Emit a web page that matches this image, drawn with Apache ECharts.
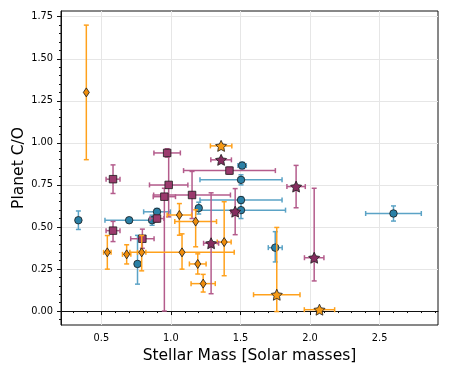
<!DOCTYPE html>
<html>
<head>
<meta charset="utf-8">
<script src="https://cdn.jsdelivr.net/npm/echarts@6/dist/echarts.min.js"></script>
<style>
  html, body { margin: 0; padding: 0; background: #fff; }
  #chart { width: 449px; height: 374px; }
</style>
</head>
<body>
<div id="chart"></div>
<script>
// tick positions
const xTicks = [0.5, 1.0, 1.5, 2.0, 2.5]
const xMinorTicks = [0.3, 0.4, 0.6, 0.7, 0.8, 0.9, 1.1, 1.2, 1.3, 1.4, 1.6, 1.7, 1.8, 1.9, 2.1, 2.2, 2.3, 2.4, 2.6, 2.7, 2.8, 2.9]
const yTicks = [0, 0.25, 0.5, 0.75, 1.0, 1.25, 1.5, 1.75]
const yMinorTicks = [-0.05, 0.05, 0.1, 0.15, 0.2, 0.3, 0.35, 0.4, 0.45, 0.55, 0.6, 0.65, 0.7, 0.8, 0.85, 0.9, 0.95, 1.05, 1.1, 1.15, 1.2, 1.3, 1.35, 1.4, 1.45, 1.55, 1.6, 1.65, 1.7]

// rows: [stellar mass, C/O, mass err, C/O err down, C/O err up]
const circles = [
  [0.335, 0.54, 0, 0.055, 0.055],
  [0.70, 0.54, 0.174, 0.015, 0.015],
  [0.865, 0.54, 0.02, 0.03, 0.03],
  [0.90, 0.59, 0.096, 0.02, 0.02],
  [0.76, 0.28, 0, 0.12, 0.17],
  [1.20, 0.612, 0, 0.035, 0.035],
  [1.512, 0.865, 0.03, 0.02, 0.02],
  [1.504, 0.78, 0.295, 0.03, 0.03],
  [1.504, 0.66, 0.295, 0.02, 0.02],
  [1.504, 0.60, 0.32, 0.05, 0.05],
  [1.75, 0.377, 0.05, 0.085, 0.095],
  [2.60, 0.58, 0.2, 0.045, 0.045]
]
const squares = [
  [0.584, 0.784, 0.05, 0.085, 0.085],
  [0.584, 0.478, 0.05, 0.065, 0.055],
  [0.795, 0.43, 0.084, 0.057, 0.057],
  [0.90, 0.55, 0.05, 0.02, 0.02],
  [0.953, 0.68, 0.08, 0.68, 0.05],
  [0.984, 0.75, 0.138, 0.19, 0.19],
  [0.973, 0.94, 0.095, 0.025, 0.025],
  [1.152, 0.69, 0.276, 0.14, 0.14],
  [1.421, 0.835, 0.33, 0.02, 0.02]
]
const diamonds = [
  [0.392, 1.30, 0, 0.40, 0.40],
  [0.543, 0.349, 0.027, 0.10, 0.10],
  [0.682, 0.337, 0.03, 0.057, 0.057],
  [0.79, 0.349, 0.03, 0.11, 0.10],
  [1.08, 0.349, 0.375, 0.10, 0.11],
  [1.061, 0.571, 0.088, 0.12, 0.068],
  [1.178, 0.532, 0.15, 0.15, 0.07],
  [1.193, 0.28, 0.06, 0.06, 0.06],
  [1.232, 0.163, 0.087, 0.05, 0.055],
  [1.383, 0.41, 0.05, 0.20, 0.24]
]
const orangeStars = [
  [1.361, 0.982, 0.077, 0, 0],
  [1.761, 0.097, 0.167, 0.10, 0.40],
  [2.068, 0.008, 0.109, 0, 0]
]
const purpleStars = [
  [1.361, 0.899, 0.074, 0, 0],
  [1.462, 0.591, 0.03, 0.137, 0.137],
  [1.289, 0.403, 0.054, 0.30, 0.30],
  [1.90, 0.74, 0.066, 0.126, 0.126],
  [2.03, 0.317, 0.07, 0.138, 0.413]
]

const starPath = 'path://M0,-10 L2.94,-4.05 9.51,-3.09 4.76,1.55 5.88,8.09 0,5 -5.88,8.09 -4.76,1.55 -9.51,-3.09 -2.94,-4.05 Z'

function errorBars (rows, color, z) {
  return {
    type: 'custom',
    z: z,
    silent: true,
    data: rows,
    encode: { x: 0, y: 1 },
    renderItem: function (params, api) {
      let x = api.value(0)
      let y = api.value(1)
      let xe = api.value(2)
      let lo = api.value(3)
      let hi = api.value(4)
      let cap = 2.5
      let kids = []
      let line = function (x1, y1, x2, y2) {
        kids.push({
          type: 'line',
          shape: { x1: x1, y1: y1, x2: x2, y2: y2 },
          style: { stroke: color, lineWidth: 1.5 }
        })
      }
      if (xe > 0) {
        let a = api.coord([x - xe, y])
        let b = api.coord([x + xe, y])
        line(a[0], a[1], b[0], b[1])
        line(a[0], a[1] - cap, a[0], a[1] + cap)
        line(b[0], b[1] - cap, b[0], b[1] + cap)
      }
      if (lo > 0 || hi > 0) {
        let a = api.coord([x, y - lo])
        let b = api.coord([x, y + hi])
        line(a[0], a[1], b[0], b[1])
        line(a[0] - cap, a[1], a[0] + cap, a[1])
        line(b[0] - cap, b[1], b[0] + cap, b[1])
      }
      return { type: 'group', children: kids }
    }
  }
}

function markers (rows, symbol, size, color, z) {
  return {
    type: 'scatter',
    z: z,
    data: rows,
    encode: { x: 0, y: 1 },
    symbol: symbol,
    symbolSize: size,
    itemStyle: { color: color, borderColor: '#1a1a1a', borderWidth: 0.8, opacity: 1 }
  }
}

let myChart = echarts.init(document.getElementById('chart'))
myChart.setOption({
  animation: false,
  grid: {
    left: 61,
    right: 11,
    top: 11,
    bottom: 49,
    containLabel: false,
    outerBoundsMode: 'none',
    show: true,
    borderColor: '#111',
    borderWidth: 1
  },
  xAxis: [
    {
      type: 'value',
      min: 0.21,
      max: 2.92,
      name: 'Stellar Mass [Solar masses]',
      nameLocation: 'middle',
      nameGap: 23,
      nameMoveOverlap: false,
      nameTextStyle: { fontFamily: 'DejaVu Sans', fontSize: 15.5, color: '#000' },
      axisLine: { show: true, lineStyle: { color: '#111' } },
      axisTick: { show: true, inside: false, length: 4, customValues: xTicks, lineStyle: { color: '#111' } },
      axisLabel: {
        customValues: xTicks,
        margin: 8,
        fontFamily: 'DejaVu Sans',
        fontSize: 9.8,
        color: '#000',
        formatter: function (v) { return v.toFixed(1) }
      },
      splitLine: { show: true, lineStyle: { color: '#e6e6e6' } }
    },
    {
      type: 'value',
      min: 0.21,
      max: 2.92,
      position: 'bottom',
      axisLine: { show: false },
      axisLabel: { show: false },
      splitLine: { show: false },
      axisTick: { show: true, inside: false, length: 2, customValues: xMinorTicks, lineStyle: { color: '#111' } }
    }
  ],
  yAxis: [
    {
      type: 'value',
      min: -0.083,
      max: 1.784,
      name: 'Planet C/O',
      nameLocation: 'middle',
      nameGap: 34,
      nameMoveOverlap: false,
      nameTextStyle: { fontFamily: 'DejaVu Sans', fontSize: 15.5, color: '#000' },
      axisLine: { show: true, lineStyle: { color: '#111' } },
      axisTick: { show: true, inside: false, length: 4, customValues: yTicks, lineStyle: { color: '#111' } },
      axisLabel: {
        customValues: yTicks,
        margin: 8,
        fontFamily: 'DejaVu Sans',
        fontSize: 9.8,
        color: '#000',
        formatter: function (v) { return v.toFixed(2) }
      },
      splitLine: { show: true, lineStyle: { color: '#e6e6e6' } }
    },
    {
      type: 'value',
      min: -0.083,
      max: 1.784,
      position: 'left',
      axisLine: { show: false },
      axisLabel: { show: false },
      splitLine: { show: false },
      axisTick: { show: true, inside: false, length: 2, customValues: yMinorTicks, lineStyle: { color: '#111' } }
    }
  ],
  series: [
    errorBars(circles, '#5ba3c6', 2),
    markers(circles, 'circle', 7.5, '#2a80a6', 3),
    errorBars(squares, '#b45c8c', 4),
    markers(squares, 'rect', 7.5, '#9b3a6d', 5),
    errorBars(diamonds, '#ffa11c', 6),
    markers(diamonds, 'diamond', [6, 9], '#ef8d0c', 7),
    errorBars(orangeStars, '#ffa11c', 8),
    markers(orangeStars, starPath, 11, '#f59a16', 9),
    errorBars(purpleStars, '#b45c8c', 10),
    markers(purpleStars, starPath, 11, '#842c5e', 11)
  ]
})
</script>
</body>
</html>
